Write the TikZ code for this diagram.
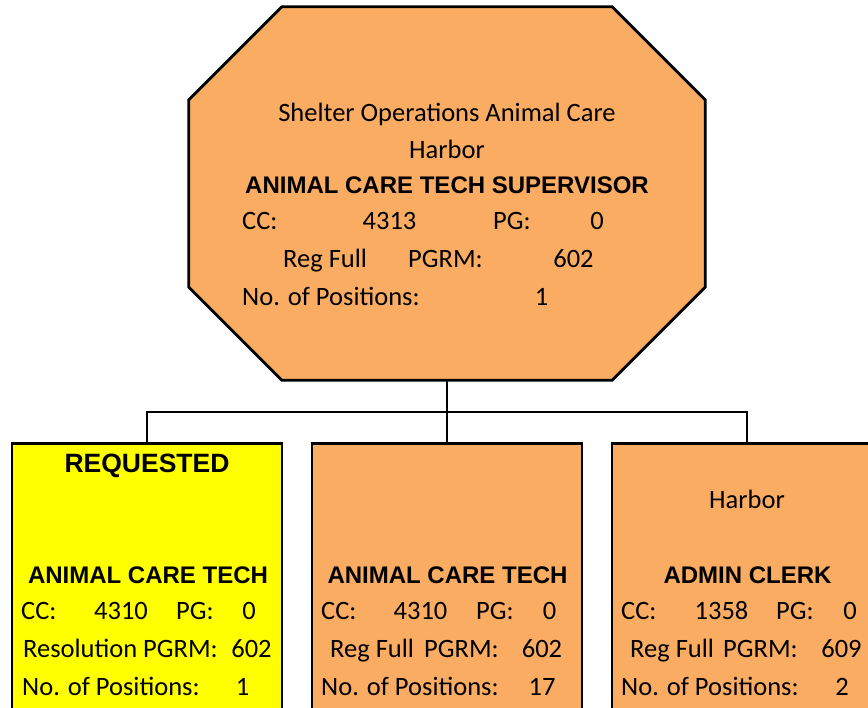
\documentclass[tikz,border=0pt]{standalone}
\usepackage{fontspec}
\setmainfont{Carlito}
\newfontfamily\arialfont{Liberation Sans}
\usetikzlibrary{calc}

\definecolor{boxorange}{HTML}{FAAC62}
\definecolor{reqyellow}{HTML}{FFFF00}

\tikzset{
  jobbox/.style={draw=black, line width=2.8pt, anchor=north, minimum width=270pt, minimum height=300pt, inner sep=0pt},
  link/.style={draw=black, line width=2.6pt},
  lbl/.style={font=\fontsize{26.5}{30}\selectfont, anchor=base west, inner sep=0pt},
  val/.style={font=\fontsize{26.5}{30}\selectfont, anchor=base, inner sep=0pt},
  ttl/.style={font=\arialfont\bfseries\fontsize{24}{28}\selectfont, anchor=base, inner sep=0pt},
}

\begin{document}
\begin{tikzpicture}[x=1pt, y=-1pt]
    \useasboundingbox (0,0) rectangle (868,708);
    \clip (0,0) rectangle (868,708);

    % supervisor octagon
    \node[minimum width=516pt, minimum height=373pt, inner sep=0pt] (super) at (447,193.5) {};
    \draw[link, line width=2.8pt, fill=boxorange] ([xshift=93pt]super.north west) -- ([xshift=-93pt]super.north east)
        -- ([yshift=-93pt]super.north east) -- ([yshift=93pt]super.south east)
        -- ([xshift=-93pt]super.south east) -- ([xshift=93pt]super.south west)
        -- ([yshift=93pt]super.south west) -- ([yshift=-93pt]super.north west) -- cycle;

    \node[val] (sup-unit) at (447,122) {Shelter Operations Animal Care};
    \node[val] (sup-site) at (447,159) {Harbor};
    \node[ttl] (sup-title) at (447,194) {ANIMAL CARE TECH SUPERVISOR};
    \node[lbl] (sup-cc) at (242,230) {CC:};
    \node[val] (sup-ccv) at (389.5,230) {4313};
    \node[lbl] (sup-pg) at (493,230) {PG:};
    \node[val] (sup-pgv) at (597,230) {0};
    \node[lbl] (sup-type) at (283,268) {Reg Full};
    \node[lbl] (sup-pgrm) at (408,268) {PGRM:};
    \node[val] (sup-pgrmv) at (573.5,268) {602};
    \node[lbl] (sup-pos) at (242,306) {No. of Positions:};
    \node[val] (sup-posv) at (541.5,306) {1};

    % requested tech
    \begin{scope}[shift={(12,0)}]
        \node[jobbox, fill=reqyellow] (req) at (135,442) {};
        \node[ttl, font=\arialfont\bfseries\fontsize{26.5}{30}\selectfont] (req-flag) at (135,473) {REQUESTED};
        \node[ttl] (req-title) at (136,583) {ANIMAL CARE TECH};
        \node[lbl] (req-cc) at (9,619) {CC:};
        \node[val] (req-ccv) at (109,619) {4310};
        \node[lbl] (req-pg) at (164,619) {PG:};
        \node[val] (req-pgv) at (237,619) {0};
        \node[lbl] (req-type) at (11,657) {Resolution};
        \node[lbl] (req-pgrm) at (131,657) {PGRM:};
        \node[val] (req-pgrmv) at (239.5,657) {602};
        \node[lbl] (req-pos) at (10,695) {No. of Positions:};
        \node[val] (req-posv) at (230.5,695) {1};
    \end{scope}

    % animal care tech
    \begin{scope}[shift={(312,0)}]
        \node[jobbox, fill=boxorange] (mid) at (135,442) {};
        \node[ttl] (mid-title) at (135.5,583) {ANIMAL CARE TECH};
        \node[lbl] (mid-cc) at (9,619) {CC:};
        \node[val] (mid-ccv) at (108.5,619) {4310};
        \node[lbl] (mid-pg) at (164,619) {PG:};
        \node[val] (mid-pgv) at (237.5,619) {0};
        \node[lbl] (mid-type) at (18,657) {Reg Full};
        \node[lbl] (mid-pgrm) at (112,657) {PGRM:};
        \node[val] (mid-pgrmv) at (230,657) {602};
        \node[lbl] (mid-pos) at (9,695) {No. of Positions:};
        \node[val] (mid-posv) at (230,695) {17};
    \end{scope}

    % admin clerk
    \begin{scope}[shift={(613,0)}]
        \node[jobbox, fill=boxorange] (adm) at (134,442) {};
        \node[val] (adm-site) at (134,509) {Harbor};
        \node[ttl] (adm-title) at (134.5,583) {ADMIN CLERK};
        \node[lbl] (adm-cc) at (8,619) {CC:};
        \node[val] (adm-ccv) at (108.5,619) {1358};
        \node[lbl] (adm-pg) at (163,619) {PG:};
        \node[val] (adm-pgv) at (237,619) {0};
        \node[lbl] (adm-type) at (17,657) {Reg Full};
        \node[lbl] (adm-pgrm) at (110,657) {PGRM:};
        \node[val] (adm-pgrmv) at (228.5,657) {609};
        \node[lbl] (adm-pos) at (8,695) {No. of Positions:};
        \node[val] (adm-posv) at (229,695) {2};
    \end{scope}

    % connectors
    \coordinate (bus) at (447,412);
    \draw[link] (super.south) -- (mid.north);
    \draw[link] (req.north) |- (bus) -| (adm.north);
\end{tikzpicture}
\end{document}
